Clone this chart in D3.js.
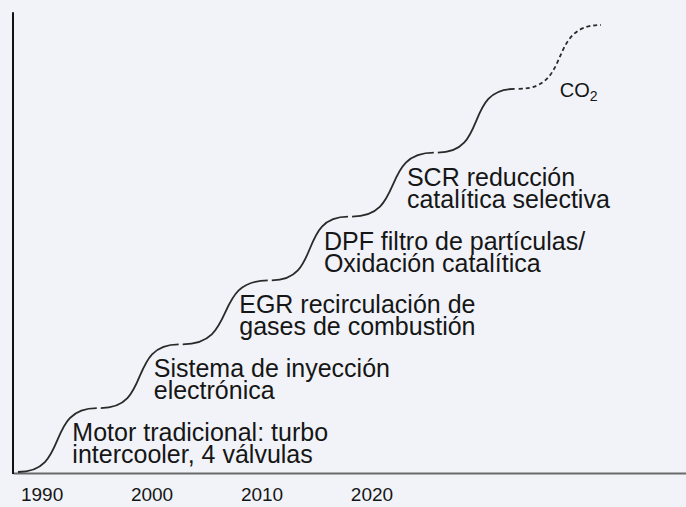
<!DOCTYPE html>
<html lang="es">
<head>
<meta charset="UTF-8" />
<title>Evolución tecnológica del motor</title>
<script src="https://d3js.org/d3.v7.min.js"></script>
<style>
  html, body { margin: 0; padding: 0; background: #f1f3f8; }
  svg { display: block; font-family: "Liberation Sans", Arial, sans-serif; }
  .step-label { font-size: 25px; fill: #161616; }
</style>
</head>
<body>
<svg width="686" height="507"></svg>
<script>
  // peldaños de la escalera (año, nivel)
  const stepYears = [1987.85, 1995.2, 2002.65, 2010.75, 2018.05, 2025.85, 2033.2, 2041.05];
  const stepLevels = [0, 1, 2, 3, 4, 5, 6, 7];

  const stepLabels = [
    ["Motor tradicional: turbo", "intercooler, 4 válvulas"],
    ["Sistema de inyección", "electrónica"],
    ["EGR recirculación de", "gases de combustión"],
    ["DPF filtro de partículas/", "Oxidación catalítica"],
    ["SCR reducción", "catalítica selectiva"]
  ];

  const yearTicks = [1990, 2000, 2010, 2020];

  const svg = d3.select("svg"),
        width = +svg.attr("width"),
        height = +svg.attr("height");

  const x = d3.scaleLinear().domain([1987.4, 2048.6]).range([13, width]);
  const y = d3.scaleLinear().domain([0, 7]).range([472, 25]);

  const axisY = y(0) + 1;

  // eje x
  const xAxis = svg.append("g")
    .attr("transform", `translate(0,${axisY})`)
    .call(d3.axisBottom(x)
      .tickValues(yearTicks)
      .tickFormat(d3.format("d"))
      .tickSize(0)
      .tickSizeOuter(0)
      .tickPadding(15));
  xAxis.attr("font-size", 19).attr("font-family", "'Liberation Sans', Arial, sans-serif");
  xAxis.selectAll(".tick text").attr("fill", "#161616");
  xAxis.select(".domain").attr("stroke", "#6a6a6a").attr("stroke-width", 2);

  // eje y (solo la línea)
  svg.append("line")
    .attr("x1", x(1987.4)).attr("x2", x(1987.4))
    .attr("y1", y(7.2)).attr("y2", axisY + 1)
    .attr("stroke", "#111")
    .attr("stroke-width", 2);

  // tramos en S entre peldaños
  const pts = stepYears.map((yr, i) => [x(yr), y(stepLevels[i])]);
  const gap = 2, a = 0.66;
  const segs = d3.pairs(pts);

  svg.selectAll(".seg")
    .data(segs)
    .enter()
    .append("path")
    .attr("class", "seg")
    .attr("d", ([p0, p1], i) => {
      const x0 = p0[0] + (i === 0 ? 0 : gap), x1 = p1[0] - gap;
      const dx = x1 - x0;
      const p = d3.path();
      p.moveTo(x0, p0[1]);
      p.bezierCurveTo(x0 + a * dx, p0[1], x1 - a * dx, p1[1], x1, p1[1]);
      return p.toString();
    })
    .attr("fill", "none")
    .attr("stroke", "#2a2a2a")
    .attr("stroke-width", 1.8)
    .attr("stroke-dasharray", (d, i) => i === segs.length - 1 ? "4,3" : null);

  // etiquetas junto a cada subida
  const lab = svg.selectAll(".step-label")
    .data(stepLabels)
    .enter()
    .append("text")
    .attr("class", "step-label")
    .attr("x", (d, i) => (pts[i][0] + pts[i + 1][0]) / 2 + 14)
    .attr("y", (d, i) => (pts[i][1] + pts[i + 1][1]) / 2 + 1);

  lab.selectAll("tspan")
    .data(d => d)
    .enter()
    .append("tspan")
    .attr("x", function() { return d3.select(this.parentNode).attr("x"); })
    .attr("dy", (d, j) => j === 0 ? 0 : 22)
    .text(d => d);

  // CO2
  const co2 = svg.append("text")
    .attr("x", (pts[6][0] + pts[7][0]) / 2)
    .attr("y", pts[6][1] + 8)
    .style("font-size", "20px")
    .attr("fill", "#161616")
    .text("CO");
  co2.append("tspan")
    .attr("dy", 4)
    .style("font-size", "14px")
    .text("2");
</script>
</body>
</html>
